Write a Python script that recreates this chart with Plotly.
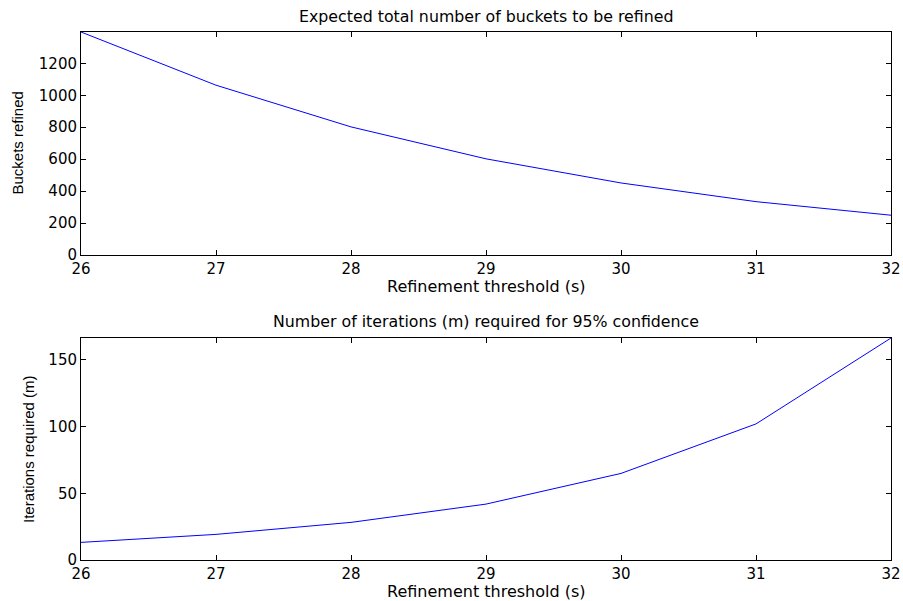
import plotly.graph_objects as go

thresholds = [26, 27, 28, 29, 30, 31, 32]
buckets_refined = [1396, 1063, 802, 602, 451, 334, 249]
iterations_required = [13.2, 19.2, 28.2, 41.9, 64.9, 102, 166.4]

top_title = "Expected total number of buckets to be refined"
bottom_title = "Number of iterations (m) required for 95% confidence"
x_title = "Refinement threshold (s)"
top_ytitle = "Buckets refined"
bottom_ytitle = "Iterations required (m)"

top_yticks = [0, 200, 400, 600, 800, 1000, 1200]
bottom_yticks = [0, 50, 100, 150]

FONT = "DejaVu Sans, Verdana, sans-serif"
NARROW = "Liberation Sans Narrow, Liberation Sans, Arial, sans-serif"

W, H = 903, 601
L = 81
R = 2
T = 32
B = H - 560
PH = H - T - B
PW = W - L - R

def py(p):
    return (H - B - p) / PH

def px(p):
    return (p - L) / (PW - 10)

fig = go.Figure()
fig.add_trace(go.Scatter(x=thresholds, y=buckets_refined, mode="lines",
                         line=dict(color="#0000ff", width=1), xaxis="x", yaxis="y"))
fig.add_trace(go.Scatter(x=thresholds, y=iterations_required, mode="lines",
                         line=dict(color="#0000ff", width=1), xaxis="x2", yaxis="y2"))

axis_common = dict(showline=True, linecolor="black", linewidth=1, mirror="ticks",
                   ticks="inside", ticklen=5, tickcolor="black", showgrid=False,
                   zeroline=False, ticklabeloverflow="allow",
                   tickfont=dict(family=FONT, size=15, color="black"))

fig.update_layout(
    width=W, height=H, autosize=False,
    margin=dict(l=L, r=R, t=T, b=B),
    paper_bgcolor="white", plot_bgcolor="white",
    showlegend=False,
    xaxis=dict(domain=[0, 1], anchor="y", range=[26, 32], tickvals=thresholds, **axis_common),
    yaxis=dict(domain=[py(255), 1], anchor="x", range=[0, 1396], tickvals=top_yticks, **axis_common),
    xaxis2=dict(domain=[0, 1], anchor="y2", range=[26, 32], tickvals=thresholds, **axis_common),
    yaxis2=dict(domain=[0, py(338)], anchor="x2", range=[0, 166.4], tickvals=bottom_yticks, **axis_common),
)

def ann(text, x, y, size, angle=0, family=FONT):
    fig.add_annotation(text=text, x=x, y=y, xref="paper", yref="paper",
                       xanchor="center", yanchor="middle", showarrow=False,
                       textangle=angle, font=dict(family=family, size=size, color="black"))

ann(top_title, 0.5, py(16), 15.8)
ann(bottom_title, 0.5, py(321), 15.8)
ann(x_title, 0.5, py(286), 16)
ann(x_title, 0.5, py(591), 16)
ann(top_ytitle, px(17), py(143.5), 15, angle=-90, family=NARROW)
ann(bottom_ytitle, px(28), py(449), 15, angle=-90, family=NARROW)

fig.write_html("out.html",
               config={"responsive": False, "displayModeBar": False},
               default_width="903px", default_height="601px",
               post_script="document.body.style.margin='0';document.body.style.overflow='hidden';")
